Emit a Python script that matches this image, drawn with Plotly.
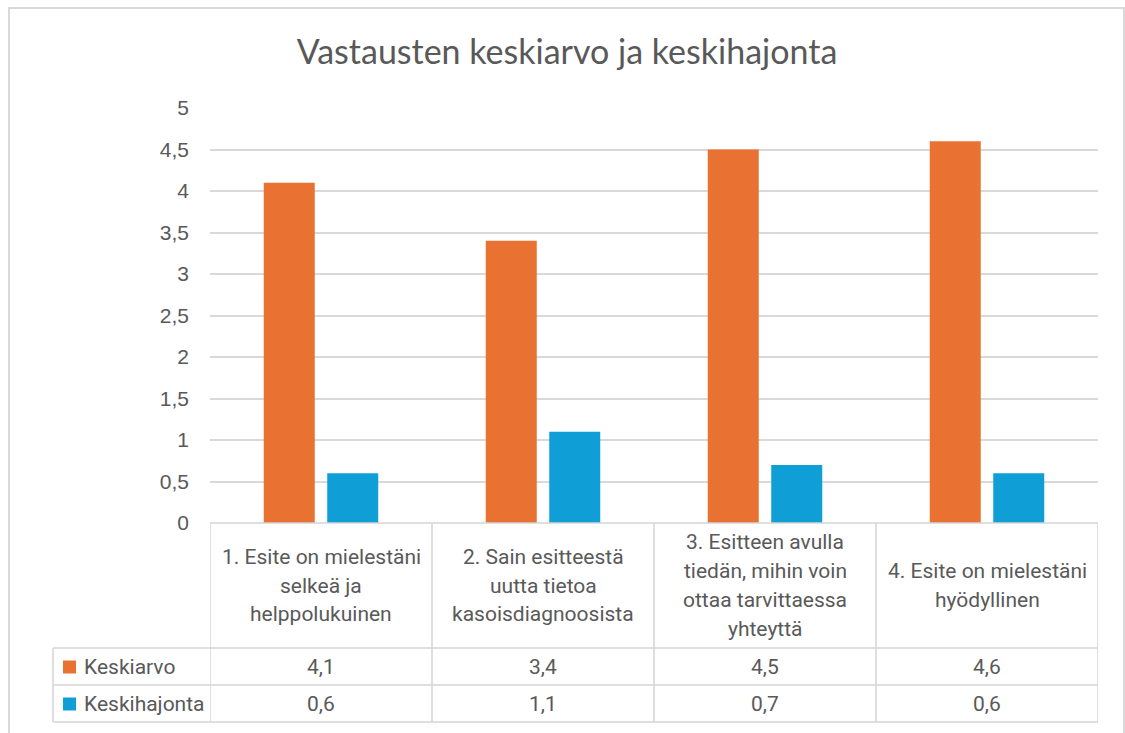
import plotly.graph_objects as go

# ---- data ----
categories = [
    "1. Esite on mielestäni selkeä ja helppolukuinen",
    "2. Sain esitteestä uutta tietoa kasoisdiagnoosista",
    "3. Esitteen avulla tiedän, mihin voin ottaa tarvittaessa yhteyttä",
    "4. Esite on mielestäni hyödyllinen",
]
category_lines = [
    ["1. Esite on mielestäni", "selkeä ja", "helppolukuinen"],
    ["2. Sain esitteestä", "uutta tietoa", "kasoisdiagnoosista"],
    ["3. Esitteen avulla", "tiedän, mihin voin", "ottaa tarvittaessa", "yhteyttä"],
    ["4. Esite on mielestäni", "hyödyllinen"],
]
series_names = ["Keskiarvo", "Keskihajonta"]
keskiarvo = [4.1, 3.4, 4.5, 4.6]
keskihajonta = [0.6, 1.1, 0.7, 0.6]
series_values = [keskiarvo, keskihajonta]
series_colors = ["#E97132", "#0F9ED5"]
title_text = "Vastausten keskiarvo ja keskihajonta"

# ---- layout helpers (pixel -> paper) ----
W, H = 1125, 733
def px(x):
    return x / W
def py(y):
    return 1 - y / H

TEXT = "#595959"
GRID = "#d9d9d9"
BORDER = "#d5d5d5"
TABLE_FONT = "Liberation Sans Narrow, Roboto, sans-serif"
TFS = 21

x_left, x_right = 210, 1098
y_top, y_zero = 108, 523
row_y = [523, 648, 685, 722]
table_left = 53

fig = go.Figure()
for name, vals, col in zip(series_names, series_values, series_colors):
    fig.add_trace(go.Bar(
        x=list(range(len(categories))), y=vals, name=name,
        marker=dict(color=col, line=dict(width=0)),
        showlegend=False, hoverinfo="y",
    ))

shapes = []
annotations = []

# outer frame
shapes.append(dict(type="rect", xref="paper", yref="paper",
                   x0=px(9), x1=px(1124), y0=py(760), y1=py(8),
                   line=dict(color=GRID, width=2)))

n = len(categories)
for i in range(n + 1):
    xb = i - 0.5
    shapes.append(dict(type="line", xref="x", yref="paper",
                       x0=xb, x1=xb, y0=py(row_y[-1]), y1=py(row_y[0]),
                       line=dict(color=BORDER, width=1.5)))
shapes.append(dict(type="line", xref="paper", yref="paper",
                   x0=px(table_left), x1=px(table_left),
                   y0=py(row_y[-1]), y1=py(row_y[1]),
                   line=dict(color=BORDER, width=1.5)))
shapes.append(dict(type="line", xref="x", yref="paper", x0=-0.5, x1=n - 0.5,
                   y0=py(row_y[0]), y1=py(row_y[0]),
                   line=dict(color=BORDER, width=1.5)))
for yy in row_y[1:]:
    shapes.append(dict(type="line", xref="paper", yref="paper",
                       x0=px(table_left), x1=px(x_right),
                       y0=py(yy), y1=py(yy),
                       line=dict(color=BORDER, width=1.5)))

header_center = (row_y[0] + row_y[1]) / 2
line_step = 28.7
for i, lines in enumerate(category_lines):
    k = len(lines)
    for j, ln in enumerate(lines):
        yc = header_center + (j - (k - 1) / 2) * line_step
        annotations.append(dict(x=i, y=py(yc), xref="x", yref="paper",
                                text=ln, showarrow=False,
                                font=dict(family=TABLE_FONT, size=TFS, color=TEXT),
                                xanchor="center", yanchor="middle"))

for r, (name, vals, col) in enumerate(zip(series_names, series_values, series_colors)):
    yc = (row_y[r + 1] + row_y[r + 2]) / 2
    shapes.append(dict(type="rect", xref="paper", yref="paper",
                       x0=px(63), x1=px(76), y0=py(yc + 7), y1=py(yc - 6),
                       fillcolor=col, line=dict(width=0)))
    annotations.append(dict(x=px(82), y=py(yc), xref="paper", yref="paper",
                            text=name, showarrow=False,
                            font=dict(family=TABLE_FONT, size=TFS, color=TEXT),
                            xanchor="left", yanchor="middle"))
    for i, v in enumerate(vals):
        annotations.append(dict(x=i, y=py(yc), xref="x", yref="paper",
                                text=f"{v:.1f}".replace(".", ","), showarrow=False,
                                font=dict(family=TABLE_FONT, size=TFS, color=TEXT),
                                xanchor="center", yanchor="middle"))

fig.update_layout(
    width=W, height=H,
    margin=dict(l=0, r=0, t=0, b=0, pad=0),
    paper_bgcolor="white", plot_bgcolor="white",
    separators=", ",
    barmode="group", bargap=0.428, bargroupgap=0.197,
    title=dict(text=title_text, x=px(567), xanchor="center",
               y=py(52), yanchor="middle",
               font=dict(family="Lato, Open Sans, sans-serif", size=34, color=TEXT)),
    xaxis=dict(domain=[px(x_left), px(x_right)], range=[-0.5, n - 0.5],
               showticklabels=False, showgrid=False, zeroline=False,
               showline=False, ticks="", fixedrange=True, automargin=False),
    yaxis=dict(domain=[py(y_zero), py(y_top)], range=[0, 5], dtick=0.5,
               showgrid=True, gridcolor=GRID, gridwidth=1.5,
               zeroline=False, showline=False, ticks="", automargin=False,
               ticklabelstandoff=20,
               tickfont=dict(family="Liberation Sans, Arial, sans-serif",
                             size=21, color=TEXT)),
    shapes=shapes, annotations=annotations,
)

fig.write_html("out.html",
               config={"displayModeBar": False},
               post_script="document.body.style.margin='0';document.body.style.overflow='hidden';")
